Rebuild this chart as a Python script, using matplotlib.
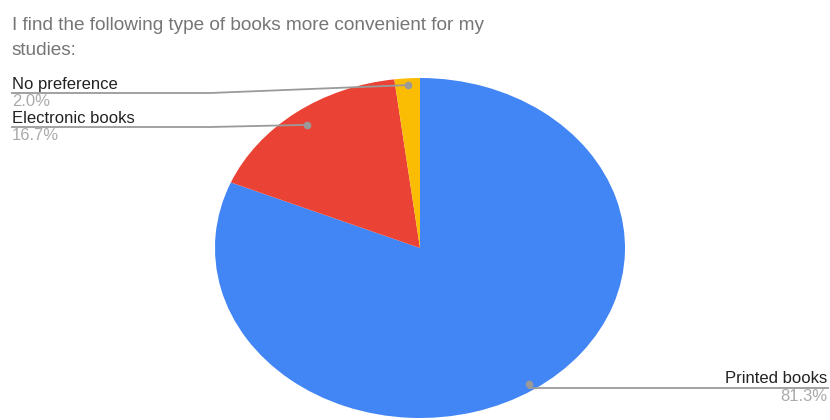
import matplotlib.pyplot as plt
from matplotlib import font_manager
import numpy as np

title_lines = ["I find the following type of books more convenient for my", "studies:"]
labels = ["Printed books", "Electronic books", "No preference"]
values = [81.3, 16.7, 2.0]
colors = ["#4285F4", "#EA4335", "#FBBC04"]

W, H = 830, 420
fig = plt.figure(figsize=(W / 100, H / 100), dpi=100)

# pie axes (pixel box of the ellipse)
ax = fig.add_axes([215 / W, (H - 418) / H, 410 / W, 340 / H])
wedges, _ = ax.pie(values, colors=colors, startangle=90, counterclock=False,
                   radius=1, wedgeprops=dict(linewidth=0))
ax.set_xlim(-1, 1)
ax.set_ylim(-1, 1)
ax.set_aspect('auto')
ax.axis('off')

# title: narrow face if there is one, sized so the first line spans ~470 px
names = {f.name for f in font_manager.fontManager.ttflist}
tfam = 'Liberation Sans Narrow' if 'Liberation Sans Narrow' in names else 'Liberation Sans'
t1 = fig.text(12 / W, 1 - 30 / H, title_lines[0], ha='left', va='baseline',
              fontsize=15.5, color='#757575', family=tfam)
t2 = fig.text(12 / W, 1 - 55 / H, title_lines[1], ha='left', va='baseline',
              fontsize=15.5, color='#757575', family=tfam)
rend = fig.canvas.get_renderer()
wpx = t1.get_window_extent(rend).width
size = min(15.5, 15.5 * 472 / wpx)
t1.set_fontsize(size)
t2.set_fontsize(size)

def to_px(x, y):
    px, py = ax.transData.transform((x, y))
    return px, H - py

def fline(xs, ys, **kw):
    fig.add_artist(plt.Line2D([x / W for x in xs], [1 - y / H for y in ys],
                              transform=fig.transFigure, **kw))

lc = '#9A9A9A'
tf = ['Liberation Sans', 'DejaVu Sans']
# label baseline, underline y, percent baseline, side
layout = {"Printed books": (383, 388, 401, 'right'),
          "Electronic books": (123, 127, 140, 'left'),
          "No preference": (89, 93, 106.5, 'left')}
radii = {"Printed books": 0.96, "Electronic books": 0.91, "No preference": 0.96}

for w, lab, v in zip(wedges, labels, values):
    mid = np.deg2rad((w.theta1 + w.theta2) / 2)
    r = radii[lab]
    dx, dy = to_px(r * np.cos(mid), r * np.sin(mid))
    ty, ly, py, side = layout[lab]
    if side == 'left':
        fline([12, 210, dx], [ly, ly, dy], color=lc, lw=1.3)
        x0, ha = 12, 'left'
    else:
        fline([dx, 828], [ly, ly], color=lc, lw=1.3)
        x0, ha = 827, 'right'
    fig.text(x0 / W, 1 - ty / H, lab, ha=ha, va='baseline', fontsize=12,
             color='#222222', family=tf)
    fig.text(x0 / W, 1 - py / H, f"{v:.1f}%", ha=ha, va='baseline',
             fontsize=12, color='#ABABAB', family=tf)
    fig.add_artist(plt.Line2D([dx / W], [1 - dy / H], marker='o', markersize=4.5,
                              color=lc, transform=fig.transFigure))

fig.savefig('out.png', dpi=100)
